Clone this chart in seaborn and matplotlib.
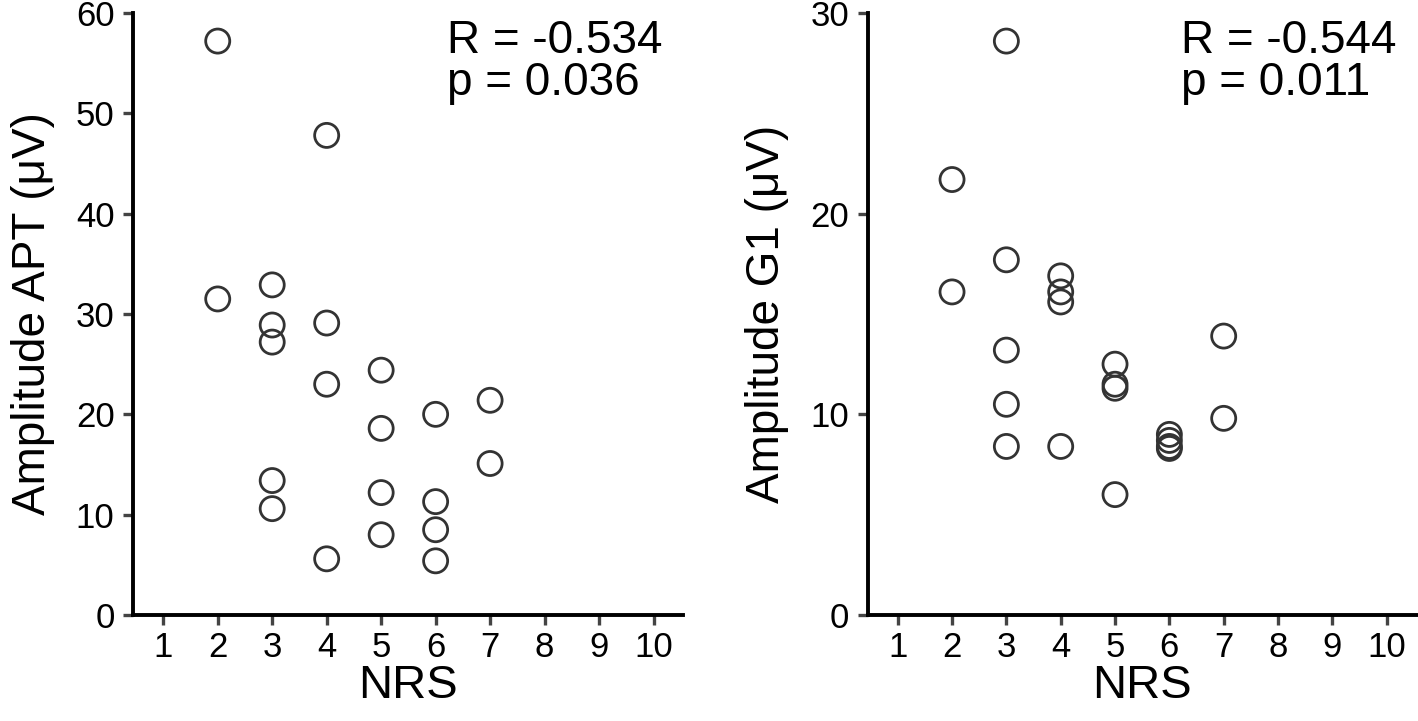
import pandas as pd
import seaborn as sns
import matplotlib.pyplot as plt

# NRS vs amplitude, two panels
nrs_apt = [2, 2, 3, 3, 3, 3, 3, 4, 4, 4, 4, 5, 5, 5, 5, 6, 6, 6, 6, 7, 7]
amp_apt = [57.2, 31.5, 32.9, 28.9, 27.2, 13.4, 10.6, 47.8, 29.1, 23.0, 5.6,
           24.4, 18.6, 12.2, 8.0, 20.0, 11.3, 8.5, 5.4, 21.4, 15.1]

nrs_g1 = [2, 2, 3, 3, 3, 3, 3, 4, 4, 4, 4, 5, 5, 5, 5, 6, 6, 6, 6, 7, 7]
amp_g1 = [21.7, 16.1, 28.6, 17.7, 13.2, 10.5, 8.4, 16.9, 16.1, 15.6, 8.4,
          12.5, 11.5, 11.3, 6.0, 9.0, 8.7, 8.4, 8.3, 13.9, 9.8]

stats_apt = "R = -0.534\np = 0.036"
stats_g1 = "R = -0.544\np = 0.011"

sns.set_style("ticks")
plt.rcParams['font.family'] = ['Liberation Sans', 'DejaVu Sans']
plt.rcParams['text.color'] = 'black'
plt.rcParams['axes.labelcolor'] = 'black'
plt.rcParams['xtick.labelcolor'] = 'black'
plt.rcParams['ytick.labelcolor'] = 'black'

fig = plt.figure(figsize=(14.18, 7.21), dpi=100)
ax1 = fig.add_axes([0.094, 0.147, 0.388, 0.835])
ax2 = fig.add_axes([0.612, 0.147, 0.387, 0.835])

panels = [
    (ax1, nrs_apt, amp_apt, "Amplitude APT (μV)", 60, [0, 10, 20, 30, 40, 50, 60], stats_apt),
    (ax2, nrs_g1, amp_g1, "Amplitude G1 (μV)", 30, [0, 10, 20, 30], stats_g1),
]

for ax, xs, ys, ylab, ymax, yt, txt in panels:
    df = pd.DataFrame({"NRS": xs, "amp": ys})
    sns.scatterplot(data=df, x="NRS", y="amp", ax=ax, marker="o", s=300,
                    facecolor="none", edgecolor="#333333", linewidth=2.0)
    ax.set_xlim(0.45, 10.55)
    ax.set_ylim(0, ymax)
    ax.set_xticks(range(1, 11))
    ax.set_yticks(yt)
    ax.set_xlabel("NRS", fontsize=34, labelpad=0)
    ax.set_ylabel(ylab, fontsize=33, labelpad=15)
    ax.tick_params(labelsize=25, length=7.5, width=2.4, color="#444444")
    ax.tick_params(axis="x", pad=4)
    ax.tick_params(axis="y", pad=6)
    for s in ["top", "right"]:
        ax.spines[s].set_visible(False)
    for s in ["left", "bottom"]:
        ax.spines[s].set_linewidth(2.8)
        ax.spines[s].set_color("black")
    ax.text(0.57, 0.99, txt, transform=ax.transAxes, fontsize=33,
            va="top", ha="left", linespacing=0.95)

fig.savefig("out.png", dpi=100)
